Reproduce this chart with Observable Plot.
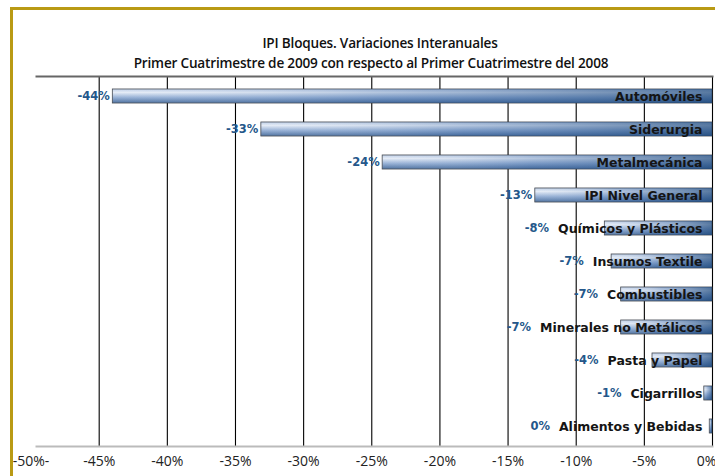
<!DOCTYPE html>
<html>
<head>
<meta charset="utf-8">
<script src="https://cdn.jsdelivr.net/npm/d3@7"></script>
<script src="https://cdn.jsdelivr.net/npm/@observablehq/plot@0.6"></script>
<style>
  html, body { margin: 0; padding: 0; background: #fff; }
  #wrap { position: relative; width: 715px; height: 476px; overflow: hidden; background: #fff; }
  #border { position: absolute; left: 10px; top: 7px; width: 800px; height: 600px;
            border-top: 3px solid #B99A14; border-left: 3px solid #B99A14; }
  .title { position: absolute; left: 0; width: 748px; text-align: center;
           font-family: "Open Sans", sans-serif; font-weight: 600; font-size: 13.6px; color: #111; letter-spacing: -0.2px; }
  #chart { position: absolute; left: 0; top: 0; }
</style>
</head>
<body>
<div id="wrap">
  <div id="border"></div>
  <div class="title" style="top:33px; left:6px">IPI Bloques. Variaciones Interanuales</div>
  <div class="title" style="top:53px; left:-3px">Primer Cuatrimestre de 2009 con respecto al Primer Cuatrimestre del 2008</div>
  <div id="chart"></div>
</div>
<script>
const categories = ["Automóviles", "Siderurgia", "Metalmecánica", "IPI Nivel General",
  "Químicos y Plásticos", "Insumos Textile", "Combustibles", "Minerales no Metálicos",
  "Pasta y Papel", "Cigarrillos", "Alimentos y Bebidas"];
const values = [-44.0, -33.1, -24.2, -13.0, -7.9, -7.4, -6.7, -6.7, -4.4, -0.6, -0.2];
const tickValues = [-50, -45, -40, -35, -30, -25, -20, -15, -10, -5, 0];

const data = categories.map((c, i) => ({category: c, value: values[i]}));

const W = 715, H = 476, mL = 36, mR = 3, mT = 76, mB = 30;
const xDomain = [-49.6, 0];
const pxPerUnit = (W - mL - mR) / (xDomain[1] - xDomain[0]);

// measure category label widths to place value labels to their left when needed
const ctx = document.createElement("canvas").getContext("2d");
ctx.font = "bold 12.5px 'DejaVu Sans'";
const labelDx = -10;
data.forEach(d => {
  const w = ctx.measureText(d.category).width;
  const labelStart = -(w - labelDx + 6) / pxPerUnit; // data units
  d.valueX = Math.min(d.value, labelStart);
  d.valueText = `${Math.round(d.value) === 0 ? 0 : Math.round(d.value)}%`;
});

const fmt = d => d === -50 ? "-50%-" : `${d}%`;
const axisStyle = {tickSize: 0, tickPadding: 10, fontSize: 14, fill: "#222",
                   fontFamily: "'Open Sans', sans-serif", tickFormat: fmt};

const plot = Plot.plot({
  width: W, height: H,
  marginLeft: mL, marginRight: mR, marginTop: mT, marginBottom: mB,
  style: {background: "transparent", overflow: "visible"},
  x: {domain: xDomain},
  y: {domain: categories, paddingInner: 0.58, paddingOuter: 0.29, axis: null},
  marks: [
    Plot.ruleX(tickValues.filter(t => t > -50), {stroke: "#000", strokeWidth: 1.1}),
    Plot.frame({anchor: "top", stroke: "#666", strokeWidth: 2}),
    Plot.frame({anchor: "bottom", stroke: "#bbb", strokeWidth: 2}),
    Plot.axisX({...axisStyle, ticks: tickValues.filter(t => t !== 0)}),
    Plot.axisX({...axisStyle, ticks: [0], dx: -6}),
    Plot.barX(data, {x1: "value", x2: 0, y: "category", fill: "url(#barGradV)",
                     stroke: "#3a3f48", strokeWidth: 0.8}),
    Plot.barX(data, {x1: "value", x2: 0, y: "category", fill: "url(#barGradH)"}),
    Plot.text(data, {x: 0, y: "category", text: "category", textAnchor: "end", dx: labelDx,
                     fontWeight: "bold", fontSize: 12.5, fill: "#151515",
                     fontFamily: "'DejaVu Sans', sans-serif"}),
    Plot.text(data, {x: "valueX", y: "category", text: "valueText", textAnchor: "end", dx: -3,
                     fontWeight: "bold", fontSize: 11.5, fill: "#24578a",
                     fontFamily: "'DejaVu Sans', sans-serif"})
  ]
});

// gradients for the bars
const svg = d3.select(plot);
const defs = svg.insert("defs", ":first-child");
const gv = defs.append("linearGradient").attr("id", "barGradV")
  .attr("x1", 0).attr("y1", 0).attr("x2", 0).attr("y2", 1);
gv.append("stop").attr("offset", "0%").attr("stop-color", "#b9cbe6");
gv.append("stop").attr("offset", "25%").attr("stop-color", "#e1e9f5");
gv.append("stop").attr("offset", "60%").attr("stop-color", "#8eaad2");
gv.append("stop").attr("offset", "100%").attr("stop-color", "#3c6396");
const gh = defs.append("linearGradient").attr("id", "barGradH")
  .attr("x1", 0).attr("y1", 0).attr("x2", 1).attr("y2", 0);
gh.append("stop").attr("offset", "0%").attr("stop-color", "#ffffff").attr("stop-opacity", 0.1);
gh.append("stop").attr("offset", "45%").attr("stop-color", "#4a72a8").attr("stop-opacity", 0.3);
gh.append("stop").attr("offset", "100%").attr("stop-color", "#1f4a7d").attr("stop-opacity", 0.7);

document.getElementById("chart").appendChild(plot);
</script>
</body>
</html>
